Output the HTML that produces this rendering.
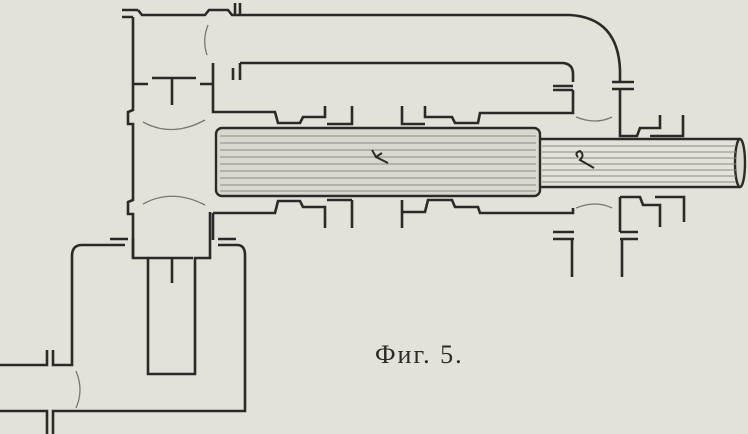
<!DOCTYPE html>
<html><head><meta charset="utf-8"><style>
html,body{margin:0;padding:0;background:#e2e2da;}
svg{display:block}
</style></head><body>
<svg width="748" height="434" viewBox="0 0 748 434" xmlns="http://www.w3.org/2000/svg">
<rect width="748" height="434" fill="#e2e2da"/>
<g fill="none" stroke="#2b2a28" stroke-width="2.6" stroke-linejoin="miter">
<path d="M122 10 H138 M122 17 H133"/>
<path d="M138 10 L142 15 H205 L209 10 H228 L232 15 H570 Q618 18 620 70 V82"/>
<path d="M235 3 V15 M240 3 V15"/>
<path d="M612 82 H634 M612 89 H634"/>
<path d="M620 89 V136 H637 L640 128 H660 V115 M650 136 H683 V115"/>
<path d="M133 17 V110 L128 112 V124 H133 V200 L128 202 V214 H133 V258"/>
<path d="M133 84 H148 M152 78 H196 M172 78 V105 M200 84 H213"/>
<path d="M213 63 V112 H275 L278 123 H300 L303 117 H325 V106"/>
<path d="M233 68 V80 M240 63 V80 M240 63 H563 Q573 64 573 74 V82"/>
<path d="M352 106 V124 H327"/>
<path d="M553 86 H573 M553 90 H573 M573 90 V113 H480 L478 123 H455 L452 117 H425 V106 M402 106 V124 H425"/>
<path d="M213 213 H275 L278 201 H300 L303 207 H325 V228 M352 200 V228 M327 200 H352"/>
<path d="M213 213 V240 M402 200 V228 M402 212 H425 L428 200 H452 L455 207 H478 L480 213 H573 V208"/>
<path d="M553 232 H574 M553 239 H574"/>
<path d="M572 239 V277 M622 239 V277 M620 232 H638 M620 239 H638"/>
<path d="M620 197 V232 M620 197 H640 L643 205 H660 V227 M655 197 H684 V222"/>
<path d="M133 238 V258 H148 V374 H195 V258 H210 V238 M210 212 V238"/>
<path d="M148 258 H193 M172 258 V283"/>
<path d="M110 239 H128 M218 239 H236"/>
<path d="M125 245 H82 Q72 245 72 256 V365 H53 V350 M47 350 V365 H0"/>
<path d="M218 245 H237 Q245 245 245 255 V411 H53 V434 M47 434 V411 H0"/>
</g>
<g fill="none" stroke="#77766f" stroke-width="1.3">
<path d="M208 25 Q202 40 207 55"/>
<path d="M143 122 Q172 138 205 120"/>
<path d="M143 204 Q172 188 205 205"/>
<path d="M76 371 Q84 390 76 408"/>
<path d="M576 117 Q596 125 612 117"/>
<path d="M576 208 Q596 200 612 208"/>
</g>
<g stroke="#2b2a28" stroke-width="2.4" fill="#d8d8d0">
<rect x="216" y="128" width="324" height="68" rx="6"/>
<path d="M540 139 H740 M540 187 H740"/>
<ellipse cx="740" cy="163" rx="5" ry="24"/>
</g>
<g stroke="#8a8a83" stroke-width="1">
<path d="M220 136 H536 M220 143 H536 M220 150 H536 M220 157 H536 M220 164 H536 M220 171 H536 M220 178 H536 M220 185 H536 M220 191 H536"/>
<path d="M542 146 H736 M542 152 H736 M542 158 H736 M542 164 H736 M542 170 H736 M542 176 H736 M542 182 H736"/>
</g>
<g fill="none" stroke="#2b2a28" stroke-width="2">
<path d="M372 150 L376 157 L382 153 M376 157 L388 163"/>
<path d="M578 157 Q574 153 580 151 Q585 155 580 160 L594 168"/>
</g>
<text x="375" y="363" font-family="'Liberation Serif', serif" font-size="26" letter-spacing="2" fill="#2b2a28">Фиг. 5.</text>
</svg>
</body></html>
